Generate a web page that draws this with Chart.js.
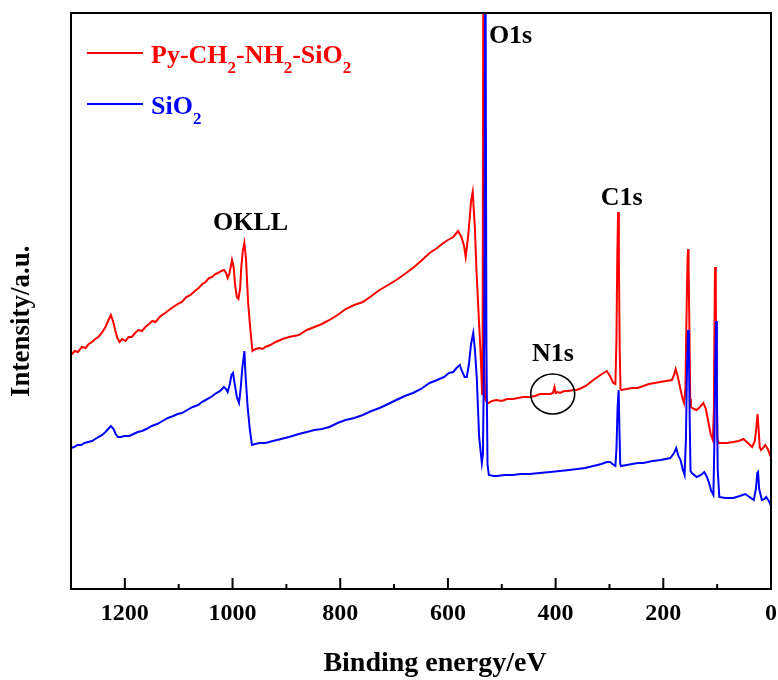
<!DOCTYPE html>
<html>
<head>
<meta charset="utf-8">
<script src="https://cdn.jsdelivr.net/npm/chart.js@4/dist/chart.umd.min.js"></script>
<style>
  html, body { margin: 0; padding: 0; background: #ffffff; }
  #wrap { width: 778px; height: 680px; }
</style>
</head>
<body>
<div id="wrap"><canvas id="c" width="778" height="680"></canvas></div>
<script>
// ---------------- data (binding energy in eV, intensity in arbitrary units) ----------------
const seriesLabels = ['Py-CH\u2082-NH\u2082-SiO\u2082', 'SiO\u2082'];

const redEnergy = [
  1300,1293,1287,1280,1273,1267,1261,1255,1249,1243,
  1236,1231,1226,1222,1218,1214,1210,1205,1199,1193,
  1187,1181,1175,1168,1162,1155,1149,1143,1137,1131,
  1125,1118,1110,1102,1094,1086,1078,1070,1063,1056,
  1050,1044,1038,1032,1027,1021,1016,1012,1009,1006,
  1003,1001,998,995,992,989,986,984,981,978,
  975,971,967,963,957,950,944,939,930,920,
  907,895,877,862,848,834,820,805,790,774,
  758,742,727,711,696,680,665,650,634,620,
  611,600,590,584,581,578,575,570,567,563,
  560,557,554,550,547,543,539,536.5,535.5,534,
  532.5,531,528,524.5,518,510,500,490,479,470,
  460,448,438,429,420,410,405,402,400,396,
  392,384,376,368,361,352,344,337,330,322,
  314,305,299,293,289,287,285.5,284,282.5,281,
  279.5,278,268,258,248,237,227,216,206,195,
  184,180,177,173,169,165,161.5,159,157,155,
  154,153,151.5,150,148.8,143,138,132,125.5,121,
  116,112,108,106,105,104,102.5,101,99.5,97.5,
  90,82,70,60,51,43,35,30,27,25,
  23,21,18.6,15,10.6,6,1,0
];
const redIntensity = [
  234,238,237,242,241,245,247,250,252,256,
  262,268,274,268,259,251,247,250,248,252,
  252,256,259,258,262,265,268,267,271,274,
  276,279,282,285,287,292,294,298,301,305,
  307,311,312,315,316,318,319,316,311,315,
  323,329,322,303,292,290,300,320,338,346,
  330,286,260,238,240,241,240,242,244,247,
  250,252,254,259,262,265,269,274,280,284,
  287,293,299,304,309,315,321,328,336,341,
  345,349,352,356,358,355,352,343,332,350,
  368,388,397,362,319,275,232,195,260,700,
  230,190,187,186,188,189,188,190,190,191,
  192,192,193,195,195,195,196,202,196,197,
  196,198,198,199,199,201,203,206,209,212,
  215,218,213,206,205,250,330,377,330,240,
  200,199,200,201,201,203,205,206,207,208,
  209,214,220,212,202,192,186,200,270,330,
  340,320,260,190,182,180,179,182,186,180,
  166,155,149,180,260,322,290,200,150,146,
  146,146,147,148,150,146,142,148,162,175,
  160,142,139,141,144,140,133,132
];

const blueEnergy = [
  1300,1294,1288,1281,1275,1268,1261,1255,1249,1242,
  1236,1231,1226,1221,1217,1213,1208,1200,1192,1184,
  1176,1168,1160,1150,1140,1130,1120,1110,1102,1094,
  1084,1074,1064,1057,1050,1040,1030,1023,1016,1012,
  1009,1005,1002,999,996,992,988,985,982,978,
  976,972,968,964,958,950,939,925,910,895,
  877,862,848,834,820,805,790,774,758,742,
  727,711,696,680,665,650,634,620,607,598,
  590,584,578,574,569,565,561,557,553,550,
  546.5,542,537,535,532.5,530.5,528.5,526.5,524,515,
  509,495,480,465,448,430,410,392,375,360,
  345,330,315,305,299,292,289,287,285,283,
  281.5,280,278.5,268,258,247,237,220,205,187,
  180,176,172,168,164,160.5,158,156,154,152.5,
  151,149.5,147,138,130,124,119,115,111,107,
  105,103.5,102,100.5,99,96,85,70,58,48,
  40,32,28,25.5,24,22,17,12,9,4,
  0.5,0
];
const blueIntensity = [
  141,142,144,144,146,147,148,150,152,154,
  157,160,163,160,155,152,152,153,153,155,
  157,158,160,163,165,168,171,173,175,176,
  179,182,184,187,189,192,196,198,202,200,
  197,205,214,216,205,192,186,200,220,238,
  215,182,160,144,145,146,146,148,150,152,
  155,157,159,160,162,166,169,171,174,178,
  181,185,189,193,196,200,206,209,212,216,
  217,221,224,218,212,212,225,245,256,240,
  212,152,126,135,250,700,240,125,114,113,
  113,114,114,115,115,116,117,118,119,120,
  121,123,125,127,127,124,123,140,180,199,
  160,125,123,124,125,126,126,128,129,131,
  136,141,133,129,120,114,150,220,259,240,
  170,118,116,112,114,117,112,106,98,94,
  150,230,268,200,120,92,91,91,93,95,
  92,89,100,116,117,100,89,90,92,88,
  84,84
];

// axis tick values (eV) and ranges
const xTickValues = [0, 200, 400, 600, 800, 1000, 1200];
const xMinorStep = 100;
const xRange = [0, 1300];
const yRange = [0, 576];

// axis titles
const xTitle = 'Binding energy/eV';
const yTitle = 'Intensity/a.u.';

// peak annotations (text anchored in data units: energy, intensity)
const peakNames     = ['O1s', 'C1s', 'OKLL', 'N1s'];
const peakEnergy    = [523.9, 277.5, 966.5, 404.9];
const peakIntensity = [546, 384, 359, 228];
const peakAlign     = ['left', 'center', 'center', 'center'];
const circleEnergy = 405.4, circleIntensity = 195;

// ---------------- chart ----------------
const FONT = "'Liberation Serif', 'Times New Roman', Times, serif";
Chart.defaults.font.family = FONT;
Chart.defaults.color = '#000';

function toXY(xs, ys) { return xs.map((v, i) => ({ x: v, y: ys[i] })); }

function drawRich(ctx, text, x, y, size, subSize, subDrop) {
  let cx = x;
  for (const ch of text) {
    const code = ch.charCodeAt(0);
    if (code >= 0x2080 && code <= 0x2089) {
      ctx.font = 'bold ' + subSize + 'px ' + FONT;
      const d = String(code - 0x2080);
      ctx.fillText(d, cx, y + subDrop);
      cx += ctx.measureText(d).width;
    } else {
      ctx.font = 'bold ' + size + 'px ' + FONT;
      ctx.fillText(ch, cx, y);
      cx += ctx.measureText(ch).width;
    }
  }
}

const decorPlugin = {
  id: 'decor',
  afterDatasetsDraw(chart) {
    const { ctx, chartArea: a, scales: { x, y } } = chart;
    ctx.save();
    // frame
    ctx.strokeStyle = '#000';
    ctx.lineWidth = 2;
    ctx.strokeRect(a.left, a.top, a.right - a.left, a.bottom - a.top);
    // inward ticks on bottom axis (major + minor)
    for (let v = xRange[0]; v <= xRange[1]; v += xMinorStep) {
      const px = x.getPixelForValue(v);
      const len = xTickValues.includes(v) ? 11 : 5;
      ctx.beginPath();
      ctx.moveTo(px, a.bottom);
      ctx.lineTo(px, a.bottom - len);
      ctx.stroke();
    }
    // peak labels
    ctx.fillStyle = '#000';
    ctx.textBaseline = 'alphabetic';
    ctx.font = 'bold 26px ' + FONT;
    peakNames.forEach((t, i) => {
      ctx.textAlign = peakAlign[i];
      ctx.fillText(t, x.getPixelForValue(peakEnergy[i]), y.getPixelForValue(peakIntensity[i]));
    });
    // circle around N1s
    ctx.lineWidth = 1.6;
    ctx.beginPath();
    ctx.ellipse(x.getPixelForValue(circleEnergy), y.getPixelForValue(circleIntensity), 22, 20, 0, 0, Math.PI * 2);
    ctx.stroke();
    // legend
    ctx.textAlign = 'left';
    chart.data.datasets.forEach((ds, i) => {
      const ly = 53 + i * 51;
      ctx.strokeStyle = ds.borderColor;
      ctx.lineWidth = 2;
      ctx.beginPath();
      ctx.moveTo(87, ly);
      ctx.lineTo(143, ly);
      ctx.stroke();
      ctx.fillStyle = ds.borderColor;
      drawRich(ctx, ds.label, 151, ly + 10, 26, 17, 10);
    });
    ctx.restore();
  }
};

new Chart(document.getElementById('c'), {
  type: 'line',
  data: {
    datasets: [
      { label: seriesLabels[0], data: toXY(redEnergy, redIntensity), borderColor: '#ff0000',
        borderWidth: 2, pointRadius: 0, tension: 0, fill: false, order: 1 },
      { label: seriesLabels[1], data: toXY(blueEnergy, blueIntensity), borderColor: '#0000ff',
        borderWidth: 2, pointRadius: 0, tension: 0, fill: false, order: 0 }
    ]
  },
  options: {
    responsive: false,
    animation: false,
    devicePixelRatio: 1,
    layout: { padding: { top: 13, right: 7, bottom: 0, left: 0 } },
    plugins: { legend: { display: false }, tooltip: { enabled: false } },
    scales: {
      x: {
        type: 'linear',
        reverse: true,
        min: xRange[0],
        max: xRange[1],
        afterBuildTicks: (s) => { s.ticks = xTickValues.map(v => ({ value: v })); },
        ticks: { font: { size: 24, weight: 'bold' }, color: '#000', padding: 10, maxRotation: 0, autoSkip: false,
                 callback: (v) => String(v) },
        grid: { display: false, drawTicks: false },
        border: { display: false },
        title: { display: true, text: '\u00a0\u00a0\u00a0\u00a0' + xTitle, color: '#000',
                 font: { size: 28, weight: 'bold', lineHeight: 1 }, padding: { top: 0, bottom: 2.5 } },
        afterFit: (s) => { s.height = 91; }
      },
      y: {
        type: 'linear',
        min: yRange[0],
        max: yRange[1],
        ticks: { display: false },
        grid: { display: false, drawTicks: false },
        border: { display: false },
        title: { display: true, text: yTitle + '\u00a0\u00a0\u00a0\u00a0\u00a0\u00a0', color: '#000',
                 font: { size: 27, weight: 'bold', lineHeight: 1 }, padding: { top: 9, bottom: 0 } },
        afterFit: (s) => { s.width = 71; }
      }
    }
  },
  plugins: [decorPlugin]
});
</script>
</body>
</html>
